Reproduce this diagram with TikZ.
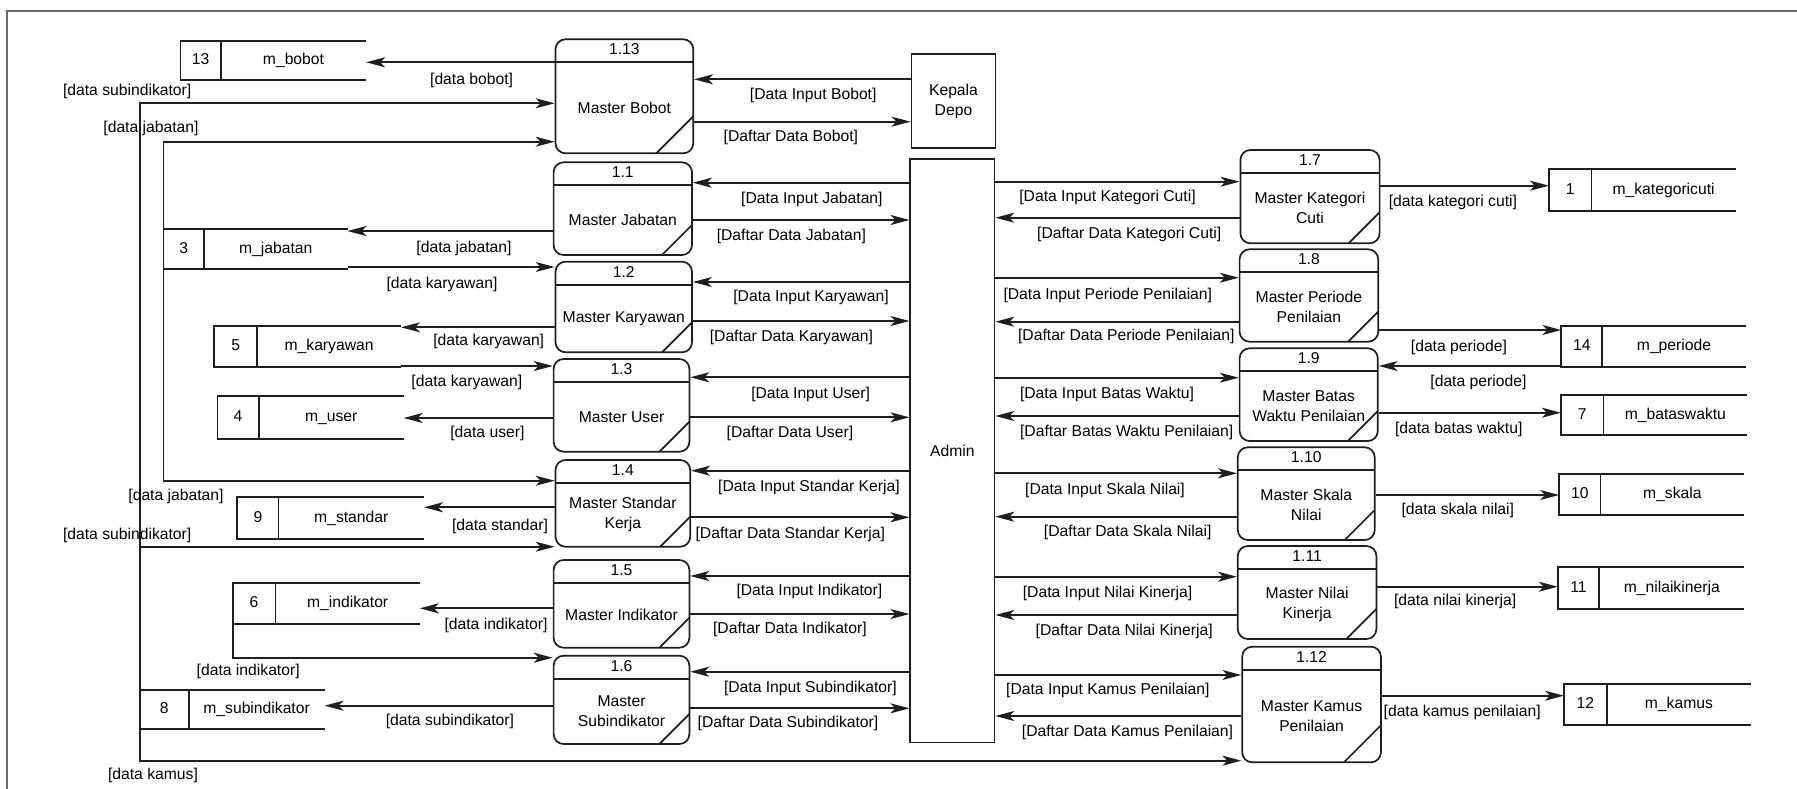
\documentclass[tikz,border=0pt]{standalone}
\usepackage{fontspec}
\setmainfont{Liberation Sans}
\usetikzlibrary{arrows.meta}
\definecolor{ink}{HTML}{1E1E1E}
\definecolor{framegray}{HTML}{6A6A6A}

\tikzset{
  txt/.style={font=\fontsize{15.7}{20}\selectfont, inner sep=0pt, text height=11.5pt, text depth=3.3pt},
  mtxt/.style={font=\fontsize{15.7}{20}\selectfont, inner sep=0pt, align=center},
  box/.style={draw=ink, line width=1.7pt},
  proc/.style={box, rounded corners=10pt, inner sep=0pt,
    path picture={
      \draw[ink, line width=1.7pt]
        ([yshift=-23pt]path picture bounding box.north west) --
        ([yshift=-23pt]path picture bounding box.north east);
      \draw[ink, line width=1.7pt]
        ([xshift=-#1]path picture bounding box.south east) --
        ([yshift=#1]path picture bounding box.south east);
    }},
  proc/.default=30pt,
  ent/.style={box, inner sep=0pt, font=\fontsize{15.7}{20}\selectfont, align=center},
  flow/.style={draw=ink, line width=1.7pt, -{Stealth[length=19pt,width=10pt,inset=5pt]}},
}

% process: name, left, top, right, bottom, slash size, number, title
\newcommand{\procbox}[8]{%
  \node[proc=#6, minimum width={#4-#2}, minimum height={#5-#3}] (#1) at ({(#2+#4)/2},{(#3+#5)/2}) {};
  \node[txt] (#1-no) at ({(#2+#4)/2},{#3+11.5}) {#7};
  \node[mtxt] (#1-tx) at ({(#2+#4)/2},{(#3+23+#5)/2}) {#8};
}
% data store: name, left, divider, right, top, bottom, id, title
\newcommand{\dstore}[8]{%
  \node[inner sep=0pt, outer sep=0pt, minimum width={#4-#2}, minimum height={#6-#5}] (#1) at ({(#2+#4)/2},{(#5+#6)/2}) {};
  \draw[box] (#1.north east) -- (#1.north west) -- (#1.south west) -- (#1.south east);
  \draw[box] (#3,#5) -- (#3,#6);
  \node[txt] (#1-id) at ({(#2+#3)/2},{(#5+#6)/2}) {#7};
  \node[txt] (#1-nm) at ({(#3+#4)/2},{(#5+#6)/2}) {#8};
}
% horizontal data flow at height y between two node borders
\newcommand{\hflow}[3]{\draw[flow] (#1 |- 0,#3) -- (#2 |- 0,#3);}
\newcommand{\lbl}[4]{\node[txt] (#1) at (#2,#3) {#4};}

\begin{document}
\begin{tikzpicture}[x=1pt, y=-1pt]
\useasboundingbox (0,0) rectangle (1797,789);
\fill[white] (0,0) rectangle (1797,789);
\draw[framegray, line width=1.4pt] (7,789) -- (7,11) -- (1797,11);

% external entities
\node[ent, minimum width=84.2, minimum height=94.3] (kd) at (953.5,101.2) {Kepala\\Depo};
\node[ent, minimum width=84.2, minimum height=583.2] (admin) at (952.4,450.9) {Admin};

% processes
\procbox{p113}{555.5}{39.3}{693.3}{153.3}{37pt}{1.13}{Master Bobot}
\procbox{p11}{553.6}{162.3}{692}{255}{30pt}{1.1}{Master Jabatan}
\procbox{p12}{555.5}{261.7}{692}{352.3}{30pt}{1.2}{Master Karyawan}
\procbox{p13}{553.6}{359}{689.4}{451.7}{30pt}{1.3}{Master User}
\procbox{p14}{555.5}{460}{690.2}{546.7}{30pt}{1.4}{Master Standar\\Kerja}
\procbox{p15}{553.6}{560}{689.4}{647.7}{30pt}{1.5}{Master Indikator}
\procbox{p16}{553.6}{655.7}{689.4}{744}{30pt}{1.6}{Master\\Subindikator}
\procbox{p17}{1240.4}{150}{1379.6}{243.3}{31pt}{1.7}{Master Kategori\\Cuti}
\procbox{p18}{1239.6}{249.3}{1378.2}{341.7}{30pt}{1.8}{Master Periode\\Penilaian}
\procbox{p19}{1239.6}{348.3}{1377.8}{441}{30pt}{1.9}{Master Batas\\Waktu Penilaian}
\procbox{p110}{1237.8}{447.3}{1374.7}{540}{30pt}{1.10}{Master Skala\\Nilai}
\procbox{p111}{1237.8}{546}{1376.4}{639}{30pt}{1.11}{Master Nilai\\Kinerja}
\procbox{p112}{1242.2}{646.7}{1380.9}{762.3}{37pt}{1.12}{Master Kamus\\Penilaian}

% data stores
\dstore{s13}{180.6}{220.8}{366.2}{41}{80.3}{13}{m\_bobot}
\dstore{s3}{163.4}{204}{347.5}{228.7}{269.3}{3}{m\_jabatan}
\dstore{s5}{214.3}{257.2}{401}{326}{366.7}{5}{m\_karyawan}
\dstore{s4}{217.4}{258.7}{403.7}{396}{439}{4}{m\_user}
\dstore{s9}{237.3}{278.6}{424}{496.7}{539.3}{9}{m\_standar}
\dstore{s6}{232.7}{275.5}{419.8}{583.3}{624.3}{6}{m\_indikator}
\dstore{s8}{139.7}{188.7}{324.5}{690}{729.3}{8}{m\_subindikator}
\dstore{s1}{1548.9}{1591.6}{1735.6}{169.3}{210.7}{1}{m\_kategoricuti}
\dstore{s14}{1561.3}{1602.2}{1745.8}{326}{366.7}{14}{m\_periode}
\dstore{s7}{1560.9}{1603.6}{1747.1}{395}{435}{7}{m\_bataswaktu}
\dstore{s10}{1559.1}{1600.4}{1744.4}{473.7}{515}{10}{m\_skala}
\dstore{s11}{1557.8}{1599.1}{1744.4}{566.7}{609.3}{11}{m\_nilaikinerja}
\dstore{s12}{1564}{1606.7}{1751.1}{684}{724.7}{12}{m\_kamus}

% flows between processes and stores on the left
\hflow{p113.west}{s13.east}{62.3}
\lbl{l1}{471.6}{80}{[data bobot]}
\draw[flow] (s8.north west) -- (s8.north west |- 0,103.3) -- (p113.west |- 0,103.3);
\lbl{l2}{127.2}{91.7}{[data subindikator]}
\draw[flow] (s3.north west) -- (s3.north west |- 0,141.7) -- (p113.west |- 0,141.7);
\lbl{l3}{151}{128.3}{[data jabatan]}
\hflow{p11.west}{s3.east}{231}
\lbl{l4}{464}{248.3}{[data jabatan]}
\hflow{s3.east}{p12.west}{267}
\lbl{l5}{442}{284}{[data karyawan]}
\hflow{p12.west}{s5.east}{327.3}
\lbl{l6}{488.7}{341.7}{[data karyawan]}
\hflow{s5.east}{p13.west}{366}
\lbl{l7}{466.9}{382.7}{[data karyawan]}
\hflow{p13.west}{s4.east}{418}
\lbl{l8}{487.4}{433.3}{[data user]}
\draw[flow] (s3.south west) -- (s3.south west |- 0,480.7) -- (p14.west |- 0,480.7);
\lbl{l9}{176}{496}{[data jabatan]}
\hflow{p14.west}{s9.east}{507.3}
\lbl{l10}{500}{526}{[data standar]}
\draw[flow] (s8.north west |- 0,546.7) -- (p14.west |- 0,546.7);
\lbl{l11}{127.2}{535}{[data subindikator]}
\hflow{p15.west}{s6.east}{608.3}
\lbl{l12}{496}{625}{[data indikator]}
\draw[flow] (s6.south west) -- (s6.south west |- 0,657.7) -- (p16.west |- 0,657.7);
\lbl{l13}{248.2}{671.7}{[data indikator]}
\hflow{p16.west}{s8.east}{705.7}
\lbl{l14}{449.9}{721}{[data subindikator]}
\draw[flow] (s8.south west) -- (s8.south west |- 0,760.7) -- (p112.west |- 0,760.7);
\lbl{l15}{153}{775}{[data kamus]}

% Kepala Depo
\hflow{kd.west}{p113.east}{79.3}
\lbl{l16}{813.2}{95.7}{[Data Input Bobot]}
\hflow{p113.east}{kd.west}{121.7}
\lbl{l17}{790.9}{137.3}{[Daftar Data Bobot]}

% Admin and the left processes
\hflow{admin.west}{p11.east}{182.7}
\lbl{l18}{811.9}{199}{[Data Input Jabatan]}
\hflow{p11.east}{admin.west}{220}
\lbl{l19}{791.4}{236.7}{[Daftar Data Jabatan]}
\hflow{admin.west}{p12.east}{282}
\lbl{l20}{811}{297.7}{[Data Input Karyawan]}
\hflow{p12.east}{admin.west}{321}
\lbl{l21}{791.4}{337.3}{[Daftar Data Karyawan]}
\hflow{admin.west}{p13.east}{377.3}
\lbl{l22}{810.6}{394}{[Data Input User]}
\hflow{p13.east}{admin.west}{417.3}
\lbl{l23}{789.9}{433.3}{[Daftar Data User]}
\hflow{admin.west}{p14.east}{470.7}
\lbl{l24}{809}{487.7}{[Data Input Standar Kerja]}
\hflow{p14.east}{admin.west}{517.3}
\lbl{l25}{790.3}{534}{[Daftar Data Standar Kerja]}
\hflow{admin.west}{p15.east}{576}
\lbl{l26}{809.4}{591.7}{[Data Input Indikator]}
\hflow{p15.east}{admin.west}{614}
\lbl{l27}{789.9}{629.3}{[Daftar Data Indikator]}
\hflow{admin.west}{p16.east}{671.7}
\lbl{l28}{810.4}{688.3}{[Data Input Subindikator]}
\hflow{p16.east}{admin.west}{708.3}
\lbl{l29}{788}{723.3}{[Daftar Data Subindikator]}

% Admin and the right processes
\hflow{admin.east}{p17.west}{181.7}
\lbl{l30}{1107.5}{197.3}{[Data Input Kategori Cuti]}
\hflow{p17.west}{admin.east}{217.7}
\lbl{l31}{1129.2}{234.3}{[Daftar Data Kategori Cuti]}
\hflow{admin.east}{p18.west}{277.7}
\lbl{l32}{1107.8}{295}{[Data Input Periode Penilaian]}
\hflow{p18.west}{admin.east}{321.7}
\lbl{l33}{1126.3}{336.7}{[Daftar Data Periode Penilaian]}
\hflow{admin.east}{p19.west}{377.7}
\lbl{l34}{1107}{394.3}{[Data Input Batas Waktu]}
\hflow{p19.west}{admin.east}{416}
\lbl{l35}{1126.7}{432}{[Daftar Batas Waktu Penilaian]}
\hflow{admin.east}{p110.west}{473.3}
\lbl{l36}{1105}{490.7}{[Data Input Skala Nilai]}
\hflow{p110.west}{admin.east}{516.7}
\lbl{l37}{1127.7}{532.3}{[Daftar Data Skala Nilai]}
\hflow{admin.east}{p111.west}{576.7}
\lbl{l38}{1107.5}{593.3}{[Data Input Nilai Kinerja]}
\hflow{p111.west}{admin.east}{615}
\lbl{l39}{1124.2}{631}{[Daftar Data Nilai Kinerja]}
\hflow{admin.east}{p112.west}{675}
\lbl{l40}{1107.8}{690.7}{[Data Input Kamus Penilaian]}
\hflow{p112.west}{admin.east}{716}
\lbl{l41}{1127.5}{732.3}{[Daftar Data Kamus Penilaian]}

% flows between processes and stores on the right
\hflow{p17.east}{s1.west}{185.7}
\lbl{l42}{1452.9}{202.3}{[data kategori cuti]}
\hflow{p18.east}{s14.west}{330}
\lbl{l43}{1458.9}{347.3}{[data periode]}
\hflow{s14.west}{p19.east}{366}
\lbl{l44}{1478.4}{382.3}{[data periode]}
\hflow{p19.east}{s7.west}{412.7}
\lbl{l45}{1458.7}{429}{[data batas waktu]}
\hflow{p110.east}{s10.west}{495}
\lbl{l46}{1457.8}{510.7}{[data skala nilai]}
\hflow{p111.east}{s11.west}{586.7}
\lbl{l47}{1455.1}{601.7}{[data nilai kinerja]}
\hflow{p112.east}{s12.west}{695.7}
\lbl{l48}{1462.2}{712.3}{[data kamus penilaian]}
\end{tikzpicture}
\end{document}
